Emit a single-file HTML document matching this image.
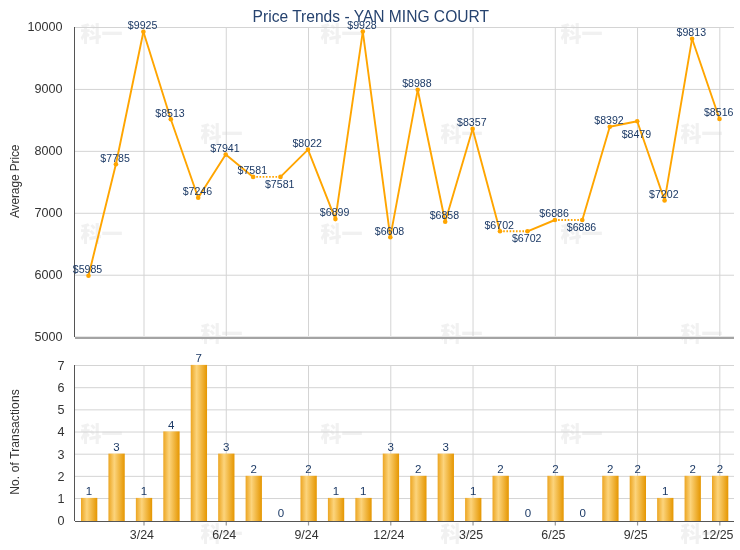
<!DOCTYPE html><html><head><meta charset="utf-8"><title>Price Trends - YAN MING COURT</title>
<style>html,body{margin:0;padding:0;background:#fff}svg{display:block}text{font-family:"Liberation Sans","Noto Sans CJK SC",sans-serif}.wm{font-family:"Noto Sans CJK SC","WenQuanYi Zen Hei",sans-serif;font-weight:900;font-size:21px;fill:#f1f1f1}.dl{font-size:10.6px;fill:#1c3a66;text-anchor:middle}.ax{font-size:12.4px;fill:#333}</style></head><body>
<svg width="740" height="550" viewBox="0 0 740 550">
<defs><linearGradient id="bg" x1="0" x2="1" y1="0" y2="0"><stop offset="0" stop-color="#eca521"/><stop offset="0.36" stop-color="#fcd47c"/><stop offset="1" stop-color="#e59600"/></linearGradient></defs>
<rect width="740" height="550" fill="#fff"/>
<text class="wm" x="80.5" y="40.5">科一</text>
<text class="wm" x="200.5" y="140.5">科一</text>
<text class="wm" x="320.5" y="40.5">科一</text>
<text class="wm" x="440.5" y="140.5">科一</text>
<text class="wm" x="560.5" y="40.5">科一</text>
<text class="wm" x="680.5" y="140.5">科一</text>
<text class="wm" x="80.5" y="240.5">科一</text>
<text class="wm" x="200.5" y="340.5">科一</text>
<text class="wm" x="320.5" y="240.5">科一</text>
<text class="wm" x="440.5" y="340.5">科一</text>
<text class="wm" x="560.5" y="240.5">科一</text>
<text class="wm" x="680.5" y="340.5">科一</text>
<text class="wm" x="80.5" y="440.5">科一</text>
<text class="wm" x="200.5" y="540.5">科一</text>
<text class="wm" x="320.5" y="440.5">科一</text>
<text class="wm" x="440.5" y="540.5">科一</text>
<text class="wm" x="560.5" y="440.5">科一</text>
<text class="wm" x="680.5" y="540.5">科一</text>
<rect x="75" y="27.00" width="659" height="1" fill="#d4d4d4"/>
<rect x="75" y="88.93" width="659" height="1" fill="#d4d4d4"/>
<rect x="75" y="150.86" width="659" height="1" fill="#d4d4d4"/>
<rect x="75" y="212.79" width="659" height="1" fill="#d4d4d4"/>
<rect x="75" y="274.72" width="659" height="1" fill="#d4d4d4"/>
<rect x="143.50" y="27" width="1" height="310" fill="#d4d4d4"/>
<rect x="143.50" y="365" width="1" height="156" fill="#d4d4d4"/>
<rect x="225.76" y="27" width="1" height="310" fill="#d4d4d4"/>
<rect x="225.76" y="365" width="1" height="156" fill="#d4d4d4"/>
<rect x="308.02" y="27" width="1" height="310" fill="#d4d4d4"/>
<rect x="308.02" y="365" width="1" height="156" fill="#d4d4d4"/>
<rect x="390.28" y="27" width="1" height="310" fill="#d4d4d4"/>
<rect x="390.28" y="365" width="1" height="156" fill="#d4d4d4"/>
<rect x="472.54" y="27" width="1" height="310" fill="#d4d4d4"/>
<rect x="472.54" y="365" width="1" height="156" fill="#d4d4d4"/>
<rect x="554.80" y="27" width="1" height="310" fill="#d4d4d4"/>
<rect x="554.80" y="365" width="1" height="156" fill="#d4d4d4"/>
<rect x="637.06" y="27" width="1" height="310" fill="#d4d4d4"/>
<rect x="637.06" y="365" width="1" height="156" fill="#d4d4d4"/>
<rect x="719.32" y="27" width="1" height="310" fill="#d4d4d4"/>
<rect x="719.32" y="365" width="1" height="156" fill="#d4d4d4"/>
<rect x="75" y="498.03" width="659" height="1" fill="#d4d4d4"/>
<rect x="75" y="475.86" width="659" height="1" fill="#d4d4d4"/>
<rect x="75" y="453.69" width="659" height="1" fill="#d4d4d4"/>
<rect x="75" y="431.52" width="659" height="1" fill="#d4d4d4"/>
<rect x="75" y="409.35" width="659" height="1" fill="#d4d4d4"/>
<rect x="75" y="387.18" width="659" height="1" fill="#d4d4d4"/>
<rect x="75" y="365.01" width="659" height="1" fill="#d4d4d4"/>
<rect x="74" y="27" width="1" height="310" fill="#555"/>
<rect x="75" y="336" width="659" height="1" fill="#e6e6e6"/>
<rect x="75" y="337" width="659" height="2" fill="#a4a4a4"/>
<rect x="74" y="365" width="1" height="156" fill="#555"/>
<rect x="81.00" y="497.9" width="16.3" height="23.3" fill="url(#bg)"/>
<rect x="108.44" y="453.6" width="16.3" height="67.6" fill="url(#bg)"/>
<rect x="135.87" y="497.9" width="16.3" height="23.3" fill="url(#bg)"/>
<rect x="163.31" y="431.4" width="16.3" height="89.8" fill="url(#bg)"/>
<rect x="190.74" y="364.9" width="16.3" height="156.3" fill="url(#bg)"/>
<rect x="218.17" y="453.6" width="16.3" height="67.6" fill="url(#bg)"/>
<rect x="245.61" y="475.8" width="16.3" height="45.4" fill="url(#bg)"/>
<rect x="300.48" y="475.8" width="16.3" height="45.4" fill="url(#bg)"/>
<rect x="327.91" y="497.9" width="16.3" height="23.3" fill="url(#bg)"/>
<rect x="355.35" y="497.9" width="16.3" height="23.3" fill="url(#bg)"/>
<rect x="382.78" y="453.6" width="16.3" height="67.6" fill="url(#bg)"/>
<rect x="410.22" y="475.8" width="16.3" height="45.4" fill="url(#bg)"/>
<rect x="437.65" y="453.6" width="16.3" height="67.6" fill="url(#bg)"/>
<rect x="465.09" y="497.9" width="16.3" height="23.3" fill="url(#bg)"/>
<rect x="492.52" y="475.8" width="16.3" height="45.4" fill="url(#bg)"/>
<rect x="547.39" y="475.8" width="16.3" height="45.4" fill="url(#bg)"/>
<rect x="602.26" y="475.8" width="16.3" height="45.4" fill="url(#bg)"/>
<rect x="629.70" y="475.8" width="16.3" height="45.4" fill="url(#bg)"/>
<rect x="657.13" y="497.9" width="16.3" height="23.3" fill="url(#bg)"/>
<rect x="684.57" y="475.8" width="16.3" height="45.4" fill="url(#bg)"/>
<rect x="712.00" y="475.8" width="16.3" height="45.4" fill="url(#bg)"/>
<rect x="75" y="521" width="659" height="1" fill="#555"/>
<rect x="143.40" y="522" width="1.2" height="3.5" fill="#999"/>
<rect x="225.66" y="522" width="1.2" height="3.5" fill="#999"/>
<rect x="307.92" y="522" width="1.2" height="3.5" fill="#999"/>
<rect x="390.18" y="522" width="1.2" height="3.5" fill="#999"/>
<rect x="472.44" y="522" width="1.2" height="3.5" fill="#999"/>
<rect x="554.70" y="522" width="1.2" height="3.5" fill="#999"/>
<rect x="636.96" y="522" width="1.2" height="3.5" fill="#999"/>
<rect x="719.22" y="522" width="1.2" height="3.5" fill="#999"/>
<line x1="88.5" y1="275.7" x2="115.9" y2="164.3" stroke="#ffa500" stroke-width="1.9" stroke-linecap="round"/>
<line x1="115.9" y1="164.3" x2="143.4" y2="31.7" stroke="#ffa500" stroke-width="1.9" stroke-linecap="round"/>
<line x1="143.4" y1="31.7" x2="170.8" y2="119.2" stroke="#ffa500" stroke-width="1.9" stroke-linecap="round"/>
<line x1="170.8" y1="119.2" x2="198.2" y2="197.7" stroke="#ffa500" stroke-width="1.9" stroke-linecap="round"/>
<line x1="198.2" y1="197.7" x2="225.7" y2="154.6" stroke="#ffa500" stroke-width="1.9" stroke-linecap="round"/>
<line x1="225.7" y1="154.6" x2="253.1" y2="176.9" stroke="#ffa500" stroke-width="1.9" stroke-linecap="round"/>
<line x1="253.1" y1="176.9" x2="280.5" y2="176.9" stroke="#ffa500" stroke-width="1.9" stroke-dasharray="1.6,1.6"/>
<line x1="280.5" y1="176.9" x2="308.0" y2="149.6" stroke="#ffa500" stroke-width="1.9" stroke-linecap="round"/>
<line x1="308.0" y1="149.6" x2="335.4" y2="219.1" stroke="#ffa500" stroke-width="1.9" stroke-linecap="round"/>
<line x1="335.4" y1="219.1" x2="362.8" y2="31.6" stroke="#ffa500" stroke-width="1.9" stroke-linecap="round"/>
<line x1="362.8" y1="31.6" x2="390.3" y2="237.2" stroke="#ffa500" stroke-width="1.9" stroke-linecap="round"/>
<line x1="390.3" y1="237.2" x2="417.7" y2="89.8" stroke="#ffa500" stroke-width="1.9" stroke-linecap="round"/>
<line x1="417.7" y1="89.8" x2="445.2" y2="221.7" stroke="#ffa500" stroke-width="1.9" stroke-linecap="round"/>
<line x1="445.2" y1="221.7" x2="472.6" y2="128.9" stroke="#ffa500" stroke-width="1.9" stroke-linecap="round"/>
<line x1="472.6" y1="128.9" x2="500.0" y2="231.3" stroke="#ffa500" stroke-width="1.9" stroke-linecap="round"/>
<line x1="500.0" y1="231.3" x2="527.5" y2="231.3" stroke="#ffa500" stroke-width="1.9" stroke-dasharray="1.6,1.6"/>
<line x1="527.5" y1="231.3" x2="554.9" y2="220.0" stroke="#ffa500" stroke-width="1.9" stroke-linecap="round"/>
<line x1="554.9" y1="220.0" x2="582.3" y2="220.0" stroke="#ffa500" stroke-width="1.9" stroke-dasharray="1.6,1.6"/>
<line x1="582.3" y1="220.0" x2="609.8" y2="126.7" stroke="#ffa500" stroke-width="1.9" stroke-linecap="round"/>
<line x1="609.8" y1="126.7" x2="637.2" y2="121.3" stroke="#ffa500" stroke-width="1.9" stroke-linecap="round"/>
<line x1="637.2" y1="121.3" x2="664.6" y2="200.4" stroke="#ffa500" stroke-width="1.9" stroke-linecap="round"/>
<line x1="664.6" y1="200.4" x2="692.1" y2="38.7" stroke="#ffa500" stroke-width="1.9" stroke-linecap="round"/>
<line x1="692.1" y1="38.7" x2="719.5" y2="119.0" stroke="#ffa500" stroke-width="1.9" stroke-linecap="round"/>
<circle cx="88.5" cy="275.7" r="2.3" fill="#ffa500"/>
<circle cx="115.9" cy="164.3" r="2.3" fill="#ffa500"/>
<circle cx="143.4" cy="31.7" r="2.3" fill="#ffa500"/>
<circle cx="170.8" cy="119.2" r="2.3" fill="#ffa500"/>
<circle cx="198.2" cy="197.7" r="2.3" fill="#ffa500"/>
<circle cx="225.7" cy="154.6" r="2.3" fill="#ffa500"/>
<circle cx="253.1" cy="176.9" r="2.3" fill="#ffa500"/>
<circle cx="280.5" cy="176.9" r="2.3" fill="#ffa500"/>
<circle cx="308.0" cy="149.6" r="2.3" fill="#ffa500"/>
<circle cx="335.4" cy="219.1" r="2.3" fill="#ffa500"/>
<circle cx="362.8" cy="31.6" r="2.3" fill="#ffa500"/>
<circle cx="390.3" cy="237.2" r="2.3" fill="#ffa500"/>
<circle cx="417.7" cy="89.8" r="2.3" fill="#ffa500"/>
<circle cx="445.2" cy="221.7" r="2.3" fill="#ffa500"/>
<circle cx="472.6" cy="128.9" r="2.3" fill="#ffa500"/>
<circle cx="500.0" cy="231.3" r="2.3" fill="#ffa500"/>
<circle cx="527.5" cy="231.3" r="2.3" fill="#ffa500"/>
<circle cx="554.9" cy="220.0" r="2.3" fill="#ffa500"/>
<circle cx="582.3" cy="220.0" r="2.3" fill="#ffa500"/>
<circle cx="609.8" cy="126.7" r="2.3" fill="#ffa500"/>
<circle cx="637.2" cy="121.3" r="2.3" fill="#ffa500"/>
<circle cx="664.6" cy="200.4" r="2.3" fill="#ffa500"/>
<circle cx="692.1" cy="38.7" r="2.3" fill="#ffa500"/>
<circle cx="719.5" cy="119.0" r="2.3" fill="#ffa500"/>
<text class="dl" x="87.5" y="273.0">$5985</text>
<text class="dl" x="115.1" y="161.6">$7785</text>
<text class="dl" x="142.6" y="29.0">$9925</text>
<text class="dl" x="170.0" y="116.5">$8513</text>
<text class="dl" x="197.4" y="195.0">$7246</text>
<text class="dl" x="224.9" y="151.9">$7941</text>
<text class="dl" x="252.3" y="174.2">$7581</text>
<text class="dl" x="279.7" y="187.9">$7581</text>
<text class="dl" x="307.2" y="146.9">$8022</text>
<text class="dl" x="334.6" y="216.4">$6899</text>
<text class="dl" x="362.0" y="28.9">$9928</text>
<text class="dl" x="389.5" y="234.5">$6608</text>
<text class="dl" x="416.9" y="87.1">$8988</text>
<text class="dl" x="444.4" y="219.0">$6858</text>
<text class="dl" x="471.8" y="126.2">$8357</text>
<text class="dl" x="499.2" y="228.6">$6702</text>
<text class="dl" x="526.7" y="242.3">$6702</text>
<text class="dl" x="554.1" y="217.3">$6886</text>
<text class="dl" x="581.5" y="231.0">$6886</text>
<text class="dl" x="609.0" y="124.0">$8392</text>
<text class="dl" x="636.4" y="137.7">$8479</text>
<text class="dl" x="663.8" y="197.7">$7202</text>
<text class="dl" x="691.3" y="36.0">$9813</text>
<text class="dl" x="718.7" y="116.3">$8516</text>
<text class="dl" x="89.0" y="495.2" style="font-size:11.5px">1</text>
<text class="dl" x="116.4" y="450.9" style="font-size:11.5px">3</text>
<text class="dl" x="143.9" y="495.2" style="font-size:11.5px">1</text>
<text class="dl" x="171.3" y="428.7" style="font-size:11.5px">4</text>
<text class="dl" x="198.7" y="362.2" style="font-size:11.5px">7</text>
<text class="dl" x="226.2" y="450.9" style="font-size:11.5px">3</text>
<text class="dl" x="253.6" y="473.1" style="font-size:11.5px">2</text>
<text class="dl" x="281.0" y="517.4" style="font-size:11.5px">0</text>
<text class="dl" x="308.5" y="473.1" style="font-size:11.5px">2</text>
<text class="dl" x="335.9" y="495.2" style="font-size:11.5px">1</text>
<text class="dl" x="363.3" y="495.2" style="font-size:11.5px">1</text>
<text class="dl" x="390.8" y="450.9" style="font-size:11.5px">3</text>
<text class="dl" x="418.2" y="473.1" style="font-size:11.5px">2</text>
<text class="dl" x="445.7" y="450.9" style="font-size:11.5px">3</text>
<text class="dl" x="473.1" y="495.2" style="font-size:11.5px">1</text>
<text class="dl" x="500.5" y="473.1" style="font-size:11.5px">2</text>
<text class="dl" x="528.0" y="517.4" style="font-size:11.5px">0</text>
<text class="dl" x="555.4" y="473.1" style="font-size:11.5px">2</text>
<text class="dl" x="582.8" y="517.4" style="font-size:11.5px">0</text>
<text class="dl" x="610.3" y="473.1" style="font-size:11.5px">2</text>
<text class="dl" x="637.7" y="473.1" style="font-size:11.5px">2</text>
<text class="dl" x="665.1" y="495.2" style="font-size:11.5px">1</text>
<text class="dl" x="692.6" y="473.1" style="font-size:11.5px">2</text>
<text class="dl" x="720.0" y="473.1" style="font-size:11.5px">2</text>
<text class="ax" style="font-size:12.6px" x="62.6" y="31.4" text-anchor="end">10000</text>
<text class="ax" style="font-size:12.6px" x="62.6" y="93.3" text-anchor="end">9000</text>
<text class="ax" style="font-size:12.6px" x="62.6" y="155.3" text-anchor="end">8000</text>
<text class="ax" style="font-size:12.6px" x="62.6" y="217.2" text-anchor="end">7000</text>
<text class="ax" style="font-size:12.6px" x="62.6" y="279.1" text-anchor="end">6000</text>
<text class="ax" style="font-size:12.6px" x="62.6" y="341.0" text-anchor="end">5000</text>
<text class="ax" style="font-size:12.6px" x="64.5" y="525.0" text-anchor="end">0</text>
<text class="ax" style="font-size:12.6px" x="64.5" y="502.8" text-anchor="end">1</text>
<text class="ax" style="font-size:12.6px" x="64.5" y="480.7" text-anchor="end">2</text>
<text class="ax" style="font-size:12.6px" x="64.5" y="458.5" text-anchor="end">3</text>
<text class="ax" style="font-size:12.6px" x="64.5" y="436.3" text-anchor="end">4</text>
<text class="ax" style="font-size:12.6px" x="64.5" y="414.2" text-anchor="end">5</text>
<text class="ax" style="font-size:12.6px" x="64.5" y="392.0" text-anchor="end">6</text>
<text class="ax" style="font-size:12.6px" x="64.5" y="369.8" text-anchor="end">7</text>
<text class="ax" x="141.9" y="539" text-anchor="middle">3/24</text>
<text class="ax" x="224.2" y="539" text-anchor="middle">6/24</text>
<text class="ax" x="306.5" y="539" text-anchor="middle">9/24</text>
<text class="ax" x="388.8" y="539" text-anchor="middle">12/24</text>
<text class="ax" x="471.1" y="539" text-anchor="middle">3/25</text>
<text class="ax" x="553.4" y="539" text-anchor="middle">6/25</text>
<text class="ax" x="635.7" y="539" text-anchor="middle">9/25</text>
<text class="ax" x="733.5" y="539" text-anchor="end">12/25</text>
<text class="ax" style="font-size:12px" textLength="73.6" transform="translate(18.6,181.3) rotate(-90)" text-anchor="middle">Average Price</text>
<text class="ax" style="font-size:12px" textLength="105.4" transform="translate(18.6,442) rotate(-90)" text-anchor="middle">No. of Transactions</text>
<text x="252.6" y="21.9" textLength="236.4" lengthAdjust="spacingAndGlyphs" style="font-size:16.5px;fill:#26436f">Price Trends - YAN MING COURT</text>
</svg></body></html>
